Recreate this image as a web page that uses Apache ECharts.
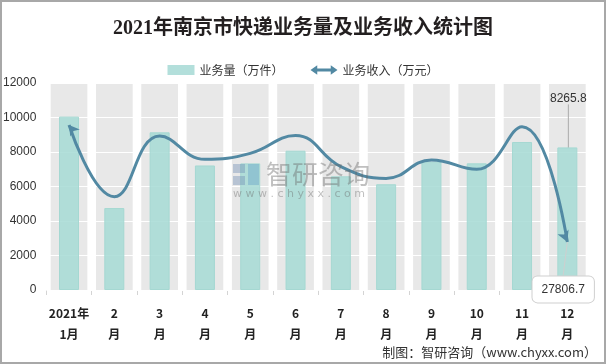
<!DOCTYPE html>
<html>
<head>
<meta charset="utf-8">
<script src="https://cdn.jsdelivr.net/npm/echarts@6/dist/echarts.min.js"></script>
<style>
html,body{margin:0;padding:0;background:#fff;}
#c{width:606px;height:364px;}
</style>
</head>
<body>
<div id="c"></div>
<script>
// ---- data ----
var categories = ['2021年1月','2月','3月','4月','5月','6月','7月','8月','9月','10月','11月','12月'];
var volume = [10050, 4750, 9140, 7220, 7340, 8075, 6590, 6130, 7440, 7343, 8580, 8265.8];   // 业务量（万件）
var revenue = [95650, 54100, 89300, 75750, 79200, 89500, 71500, 64700, 75400, 70000, 94700, 27806.7]; // 业务收入（万元）
var yTicks = [0, 2000, 4000, 6000, 8000, 10000, 12000];
var yMax = 12000;
var y2Max = 120000;

var chart = echarts.init(document.getElementById('c'), null, {renderer: 'canvas'});
var last = categories.length - 1;

var lineData = revenue.map(function (v, i) {
  var item = {value: v, symbol: 'none'};
  if (i === 0) { item.symbol = 'arrow'; item.symbolSize = [9, 10]; item.symbolRotate = 37; }
  if (i === last) {
    item.symbol = 'arrow'; item.symbolSize = [9, 11]; item.symbolRotate = 203;
    item.label = {show: true};
  }
  return item;
});
var barData = volume.map(function (v, i) {
  if (i === last) return {value: v, label: {show: true}};
  return v;
});

var wmFill = 'rgba(105,105,105,0.42)';
var option = {
  animation: false,
  backgroundColor: '#fff',
  title: {
    text: '2021年南京市快递业务量及业务收入统计图',
    left: 'center', top: 14,
    textStyle: {fontSize: 20, fontWeight: 'bold', color: '#231f20', fontFamily: "'Liberation Serif','Noto Sans CJK SC'"}
  },
  legend: {
    top: 59, left: 'center', itemWidth: 27, itemHeight: 10, itemGap: 27,
    textStyle: {fontSize: 12, color: '#333', fontFamily: "'Noto Sans CJK SC'"},
    data: [
      {name: '业务量（万件）', icon: 'rect', itemStyle: {color: '#b3dfdb', borderWidth: 0}},
      {name: '业务收入（万元）', icon: 'path://M0,5 L7,0 L7,3.5 L21,3.5 L21,0 L28,5 L21,10 L21,6.5 L7,6.5 L7,10 Z', itemStyle: {color: '#5289a3'}}
    ]
  },
  grid: {left: 44, right: 16, top: 83, bottom: 74, containLabel: false},
  xAxis: [{
    type: 'category', data: categories, boundaryGap: true,
    axisLine: {lineStyle: {color: '#d4d4d4'}},
    axisTick: {show: true, length: 5, lineStyle: {color: '#d4d4d4'}},
    axisLabel: {
      interval: 0, margin: 13, fontSize: 12, fontWeight: 'bold', color: '#222', lineHeight: 21,
      fontFamily: "'Noto Sans CJK SC'",
      formatter: function (v) {
        if (v.indexOf('年') >= 0) return v.replace('年', '年\n');
        return v.replace('月', '\n月');
      }
    }
  }, {
    type: 'category', data: categories, show: false
  }],
  yAxis: [{
    type: 'value', min: 0, max: yMax, interval: 2000, z: 3,
    axisLine: {show: false}, axisTick: {show: false},
    axisLabel: {margin: 10, fontSize: 12, color: '#333', fontFamily: "'Liberation Sans','Noto Sans CJK SC'",
      formatter: function (v) { return yTicks.indexOf(v) >= 0 ? String(v) : ''; }},
    splitLine: {lineStyle: {color: '#ffffff', width: 1}}
  }, {
    type: 'value', min: 0, max: y2Max, show: false, splitLine: {show: false}
  }],
  series: [{
    name: 'band', type: 'bar', xAxisIndex: 1, yAxisIndex: 0, z: 1, silent: true,
    barWidth: '81%', data: categories.map(function () { return yMax; }),
    itemStyle: {color: '#e8e8e8'}, legendHoverLink: false, tooltip: {show: false}
  }, {
    name: '业务量（万件）', type: 'bar', xAxisIndex: 0, yAxisIndex: 0, z: 4,
    barWidth: 20, data: barData,
    itemStyle: {color: 'rgba(166,218,213,0.85)', borderColor: '#a5d8d2', borderWidth: 1},
    label: {show: false, position: 'top', fontSize: 12, color: '#333', fontFamily: "'Liberation Sans'"},
    labelLayout: {dy: -38, dx: 1},
    labelLine: {show: true, lineStyle: {color: '#aaaaaa', width: 1}}
  }, {
    name: '业务收入（万元）', type: 'line', xAxisIndex: 0, yAxisIndex: 1, z: 5,
    smooth: 0.45, data: lineData, showSymbol: true,
    lineStyle: {color: '#5289a3', width: 3},
    itemStyle: {color: '#5289a3'},
    label: {
      show: false, position: 'bottom', fontSize: 12, color: '#333', fontFamily: "'Liberation Sans'",
      backgroundColor: '#fff', borderColor: '#cfcfcf', borderWidth: 1, borderRadius: 5, padding: [7, 9]
    },
    labelLayout: function (p) { return p.dataIndex === last ? {dy: 27, dx: -2} : {}; },
    labelLine: {show: true, lineStyle: {color: '#cfcfcf', width: 1}}
  }],
  graphic: [
    {type: 'rect', shape: {x: 1, y: 1, width: 604, height: 362}, style: {fill: 'none', stroke: '#a8a8a8', lineWidth: 2}, z: 100, silent: true},
    {type: 'text', right: 9, bottom: 5, style: {text: '制图：智研咨询（www.chyxx.com）', fontSize: 13, fill: '#333', fontFamily: "'Noto Sans CJK SC'"}, z: 100},
    {type: 'rect', z: 60, silent: true, shape: {x: 233, y: 164, width: 12, height: 9}, style: {fill: 'rgba(110,140,180,0.40)'}},
    {type: 'rect', z: 60, silent: true, shape: {x: 248, y: 164, width: 11, height: 21}, style: {fill: 'rgba(100,160,200,0.40)'}},
    {type: 'rect', z: 60, silent: true, shape: {x: 233, y: 176, width: 12, height: 9}, style: {fill: 'rgba(110,140,180,0.40)'}},
    {type: 'text', z: 60, silent: true, x: 266, y: 174, style: {text: '智研咨询', fontSize: 26, fill: wmFill, fontFamily: "'Noto Sans CJK SC'", verticalAlign: 'middle'}},
    {type: 'text', z: 60, silent: true, x: 233, y: 194, style: {text: 'w w w . c h y x x . c o m', fontSize: 11, fill: wmFill, fontFamily: "'DejaVu Sans'", verticalAlign: 'middle'}}
  ]
};
chart.setOption(option);
</script>
</body>
</html>
